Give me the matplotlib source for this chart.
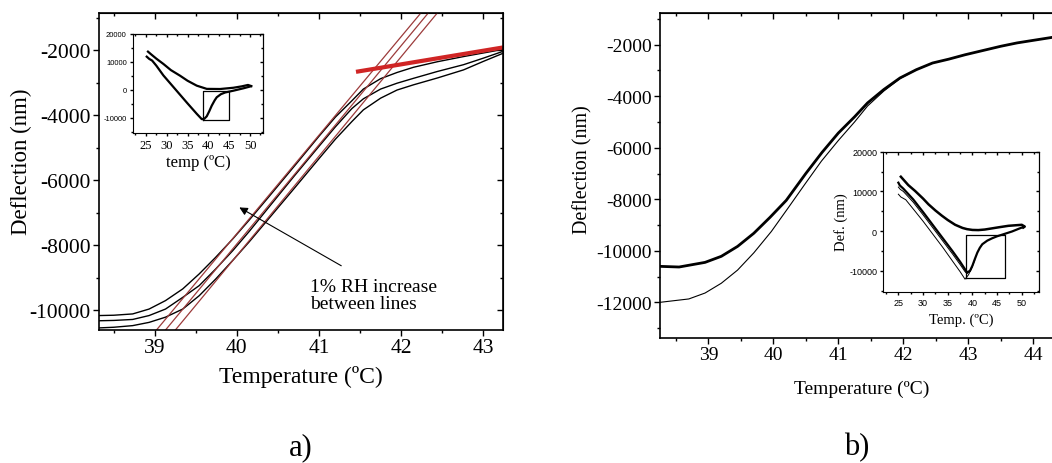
import numpy as np
import matplotlib.pyplot as plt
from matplotlib.ticker import MultipleLocator

plt.rcParams["axes.unicode_minus"] = False
plt.rcParams["font.family"] = ["Liberation Serif", "DejaVu Serif"]

# panel a) three runs, 1% RH apart
temp_a1 = [38.32, 38.5, 38.73, 38.93, 39.13, 39.34, 39.54, 39.74, 39.95, 40.15, 40.4, 40.7,
           41.0, 41.2, 41.4, 41.54, 41.75, 41.95, 42.15, 42.44, 42.76, 43.0, 43.24]
defl_a1 = [-10170, -10160, -10120, -9970, -9710, -9350, -8890, -8380, -7810, -7230, -6480, -5570,
           -4650, -4060, -3560, -3200, -2880, -2690, -2530, -2360, -2200, -2090, -1980]
temp_a2 = temp_a1
defl_a2 = [-10330, -10320, -10290, -10170, -9970, -9610, -9250, -8740, -8170, -7580, -6800, -5870,
           -4960, -4360, -3800, -3500, -3200, -3020, -2870, -2660, -2450, -2250, -2040]
temp_a3 = temp_a1
defl_a3 = [-10550, -10530, -10480, -10380, -10220, -9970, -9560, -9050, -8470, -7900, -7150, -6250,
           -5340, -4740, -4200, -3840, -3480, -3230, -3070, -2860, -2610, -2350, -2100]

# tangent lines (red) drawn by hand on the figure
tangent_t = [[39.02, 42.24], [39.13, 42.33], [39.25, 42.44]]
tangent_d = [-10615, -860]
plateau_t = [41.45, 43.24]
plateau_d = [-2670, -1920]

# inset of panel a) - full cycle 25-50 C
ins_a_up_t = [25.5, 26.2, 27.5, 29.2, 31, 33.2, 35, 37.2, 39.6, 42.8, 46.0, 48, 49.5, 50.3]
ins_a_up_d = [13700, 12800, 11200, 9300, 7100, 5100, 3300, 1550, 400, 350, 800, 1300, 1800, 1400]
ins_a_dn_t = [25.2, 25.8, 26.5, 27.5, 29.2, 31, 33.2, 35, 37.2, 38.4, 39, 39.6, 40.2, 40.8, 41.5,
              42.0, 43.0, 44.0, 46.0, 48.4, 50.2]
ins_a_dn_d = [11900, 11100, 10500, 8700, 5200, 2100, -1700, -4800, -8500, -10400, -10300, -9400,
              -7600, -5600, -3700, -2600, -1500, -900, -250, 600, 1320]
box_a_t = [38.8, 45.0]
box_a_d = [-10600, -250]

# panel b)
temp_b_up = [38.26, 38.55, 38.95, 39.2, 39.45, 39.7, 39.95, 40.2, 40.5, 40.75, 41.0, 41.25, 41.45,
             41.7, 41.95, 42.2, 42.45, 42.7, 42.95, 43.25, 43.5, 43.75, 44.0, 44.29, 44.45]
defl_b_up = [-10605, -10630, -10450, -10215, -9830, -9320, -8700, -8040, -7000, -6180, -5430, -4800,
             -4260, -3740, -3290, -2970, -2710, -2560, -2390, -2210, -2060, -1930, -1830, -1715, -1660]
temp_b_lo = [38.26, 38.7, 38.95, 39.2, 39.45, 39.7, 39.97, 40.23, 40.49, 40.74, 41.0, 41.25, 41.45,
             41.7, 41.95, 42.2]
defl_b_lo = [-12000, -11870, -11640, -11260, -10750, -10080, -9250, -8330, -7400, -6520, -5720,
             -5000, -4380, -3800, -3310, -2975]

# inset of panel b)
ins_b_up_t = [25.5, 26, 27, 28.4, 30, 31.1, 32.5, 33.8, 35, 36.5, 38, 38.9, 40, 41.2, 42.5, 43.9,
              45.5, 47.3, 49, 50.0, 50.6, 50.3]
ins_b_up_d = [13700, 13000, 11600, 10100, 8200, 6750, 5200, 3900, 2800, 1600, 800, 500, 300, 260,
              400, 680, 1000, 1340, 1500, 1590, 1150, 900]
ins_b_dn_t = [25.0, 25.3, 26, 28, 30, 32, 34, 36, 37.5, 38.5, 38.9, 39.5, 40, 40.5, 41, 41.5, 42,
              43, 44, 45, 46, 47, 48, 49, 50, 50.3]
ins_b_dn_d = [12200, 11500, 10700, 8000, 4800, 1500, -1800, -5100, -7700, -9600, -10400, -10000,
              -8700, -7000, -5400, -4200, -3300, -2400, -1800, -1300, -900, -500, -100, 400, 900, 1000]
ins_b_2_t = [25.0, 25.4, 26, 28, 30, 32, 34, 36, 37.5, 38.5, 38.9, 39.5, 40.0]
ins_b_2_d = [11100, 10500, 10000, 7300, 4100, 800, -2500, -5800, -8400, -10200, -10700, -10100, -8800]
ins_b_3_t = [25.0, 25.5, 26.5, 28, 30, 32, 34, 36, 37.5, 38.5, 39.2, 39.8, 40.5]
ins_b_3_d = [9300, 8600, 7900, 5600, 2500, -800, -4100, -7600, -10200, -12100, -11000, -9500, -7200]
box_b_t = [38.7, 46.5]
box_b_d = [-11900, -1075]


def style_ticks(ax, xmaj, xmin, ymaj, ymin, size, family, length=4):
    ax.xaxis.set_major_locator(MultipleLocator(xmaj))
    ax.xaxis.set_minor_locator(MultipleLocator(xmin))
    ax.yaxis.set_major_locator(MultipleLocator(ymaj))
    ax.yaxis.set_minor_locator(MultipleLocator(ymin))
    ax.tick_params(which="major", direction="out", length=length, width=1, labelsize=size, pad=2)
    ax.tick_params(which="minor", direction="out", length=length * 0.6, width=1)
    for lab in ax.get_xticklabels() + ax.get_yticklabels():
        lab.set_family(family)
    # mirrored ticks on top / right point inwards
    top = ax.secondary_xaxis("top")
    top.xaxis.set_major_locator(MultipleLocator(xmaj))
    top.xaxis.set_minor_locator(MultipleLocator(xmin))
    top.tick_params(which="major", direction="in", length=length, width=1, labeltop=False)
    top.tick_params(which="minor", direction="in", length=length * 0.6, width=1)
    right = ax.secondary_yaxis("right")
    right.yaxis.set_major_locator(MultipleLocator(ymaj))
    right.yaxis.set_minor_locator(MultipleLocator(ymin))
    right.tick_params(which="major", direction="in", length=length, width=1, labelright=False)
    right.tick_params(which="minor", direction="in", length=length * 0.6, width=1)


fig = plt.figure(figsize=(10.52, 4.64), dpi=100)

# ---- panel a)
ax1 = fig.add_axes([0.0941, 0.2866, 0.384, 0.6832])
ax1.plot(temp_a1, defl_a1, color="black", lw=1.0)
ax1.plot(temp_a2, defl_a2, color="black", lw=1.0)
ax1.plot(temp_a3, defl_a3, color="black", lw=1.0)
for t in tangent_t:
    ax1.plot(t, tangent_d, color="#9c3b3b", lw=0.9)
ax1.plot(plateau_t, plateau_d, color="#d02525", lw=3.0, solid_capstyle="butt")
ax1.set_xlim(38.32, 43.24)
ax1.set_ylim(-10615, -860)
style_ticks(ax1, 1, 0.5, 2000, 1000, 15.5, "Liberation Serif")
ax1.set_xlabel("Temperature (ºC)", fontsize=17, va="center")
ax1.xaxis.set_label_coords(0.5, -0.145)
ax1.set_ylabel("Deflection (nm)", fontsize=16.5, va="center", ha="center")
ax1.yaxis.set_label_coords(-0.191, 0.533)
ax1.annotate("", xy=(40.0, -6800), xytext=(41.3, -8680),
             arrowprops=dict(arrowstyle="-|>", color="black", lw=0.8, mutation_scale=12))
ax1.text(40.89, -9540, "1% RH increase\nbetween lines", fontsize=14, va="center",
         ha="left", linespacing=1.05)
for s in ax1.spines.values():
    s.set_linewidth(1.2)

# inset a)
in1 = fig.add_axes([0.1264, 0.7112, 0.1236, 0.2134])
in1.plot(ins_a_up_t, ins_a_up_d, color="black", lw=1.6)
in1.plot(ins_a_dn_t, ins_a_dn_d, color="black", lw=1.6)
in1.plot([box_a_t[0], box_a_t[1], box_a_t[1], box_a_t[0], box_a_t[0]],
         [box_a_d[0], box_a_d[0], box_a_d[1], box_a_d[1], box_a_d[0]], color="black", lw=0.9)
in1.set_xlim(21.9, 53.1)
in1.set_ylim(-15360, 20000)
style_ticks(in1, 5, 2.5, 10000, 5000, 9, "Liberation Serif", length=2.5)
for lab in in1.get_yticklabels():
    lab.set_family("Liberation Sans")
    lab.set_fontsize(5.5)
in1.set_xlabel("temp (ºC)", fontsize=12, va="center")
in1.xaxis.set_label_coords(0.5, -0.29)

# ---- panel b)
ax2 = fig.add_axes([0.6274, 0.2694, 0.3826, 0.7004])
ax2.plot(temp_b_up, defl_b_up, color="black", lw=2.0)
ax2.plot(temp_b_lo, defl_b_lo, color="black", lw=0.8)
ax2.set_xlim(38.257, 44.45)
ax2.set_ylim(-13386, -769)
style_ticks(ax2, 1, 0.5, 2000, 1000, 14, "Liberation Serif")
ax2.set_xlabel("Temperature (ºC)", fontsize=14, va="center")
ax2.xaxis.set_label_coords(0.5, -0.154)
ax2.set_ylabel("Deflection (nm)", fontsize=14.5, va="center", ha="center")
ax2.yaxis.set_label_coords(-0.192, 0.52)
for s in ax2.spines.values():
    s.set_linewidth(1.2)

# inset b)
in2 = fig.add_axes([0.8397, 0.3692, 0.148, 0.3017])
in2.plot(ins_b_up_t, ins_b_up_d, color="black", lw=1.8)
in2.plot(ins_b_dn_t, ins_b_dn_d, color="black", lw=1.6)
in2.plot(ins_b_2_t, ins_b_2_d, color="black", lw=0.7)
in2.plot(ins_b_3_t, ins_b_3_d, color="black", lw=0.7)
in2.plot([box_b_t[0], box_b_t[1], box_b_t[1], box_b_t[0], box_b_t[0]],
         [box_b_d[0], box_b_d[0], box_b_d[1], box_b_d[1], box_b_d[0]], color="black", lw=0.9)
in2.set_xlim(21.96, 53.5)
in2.set_ylim(-15250, 20000)
style_ticks(in2, 5, 2.5, 10000, 5000, 6.5, "Liberation Sans", length=2.5)
in2.set_xlabel("Temp. (ºC)", fontsize=10.5, va="center")
in2.xaxis.set_label_coords(0.5, -0.2)
in2.set_ylabel("Def. (nm)", fontsize=10.5, va="center", ha="center")
in2.yaxis.set_label_coords(-0.274, 0.507)

fig.text(301 / 1052, 1 - 448 / 464, "a)", fontsize=22, ha="center", va="center")
fig.text(857 / 1052, 1 - 448 / 464, "b)", fontsize=22, ha="center", va="center")

fig.savefig("out.png", dpi=100)
